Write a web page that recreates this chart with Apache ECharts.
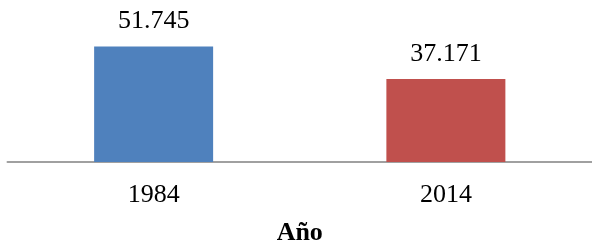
<!DOCTYPE html>
<html>
<head>
<meta charset="utf-8">
<script src="https://cdn.jsdelivr.net/npm/echarts@6/dist/echarts.min.js"></script>
<style>html,body{margin:0;padding:0;background:#fff}#c{width:592px;height:251px}</style>
</head>
<body>
<div id="c"></div>
<script>
var categories = ['1984', '2014'];
var values = [51.745, 37.171];
var barColors = ['#4F81BD', '#C0504D'];
var xAxisTitle = 'Año';

var chart = echarts.init(document.getElementById('c'), null, {renderer: 'canvas'});
var fontFam = '"Liberation Serif", "Times New Roman", serif';
chart.setOption({
  animation: false,
  grid: {left: 7.5, width: 598, top: 28, bottom: 83.5, containLabel: false},
  xAxis: {
    type: 'category',
    data: categories,
    axisLine: {lineStyle: {color: '#A0A0A0', width: 2}},
    axisTick: {show: false},
    axisLabel: {margin: 20, fontFamily: fontFam, fontSize: 26, color: '#000'},
    name: xAxisTitle,
    nameLocation: 'middle',
    nameGap: 58,
    nameTextStyle: {fontFamily: fontFam, fontSize: 26, fontWeight: 'bold', color: '#000'}
  },
  yAxis: {
    type: 'value', min: 0, max: 60, show: false,
    splitLine: {show: false}
  },
  series: [{
    type: 'bar',
    barWidth: 119,
    data: values.map(function (v, i) { return {value: v, itemStyle: {color: barColors[i]}}; }),
    label: {
      show: true, position: 'top', distance: 12,
      fontFamily: fontFam, fontSize: 26, color: '#000',
      formatter: function (p) { return p.value.toFixed(3); }
    }
  }]
});
</script>
</body>
</html>
